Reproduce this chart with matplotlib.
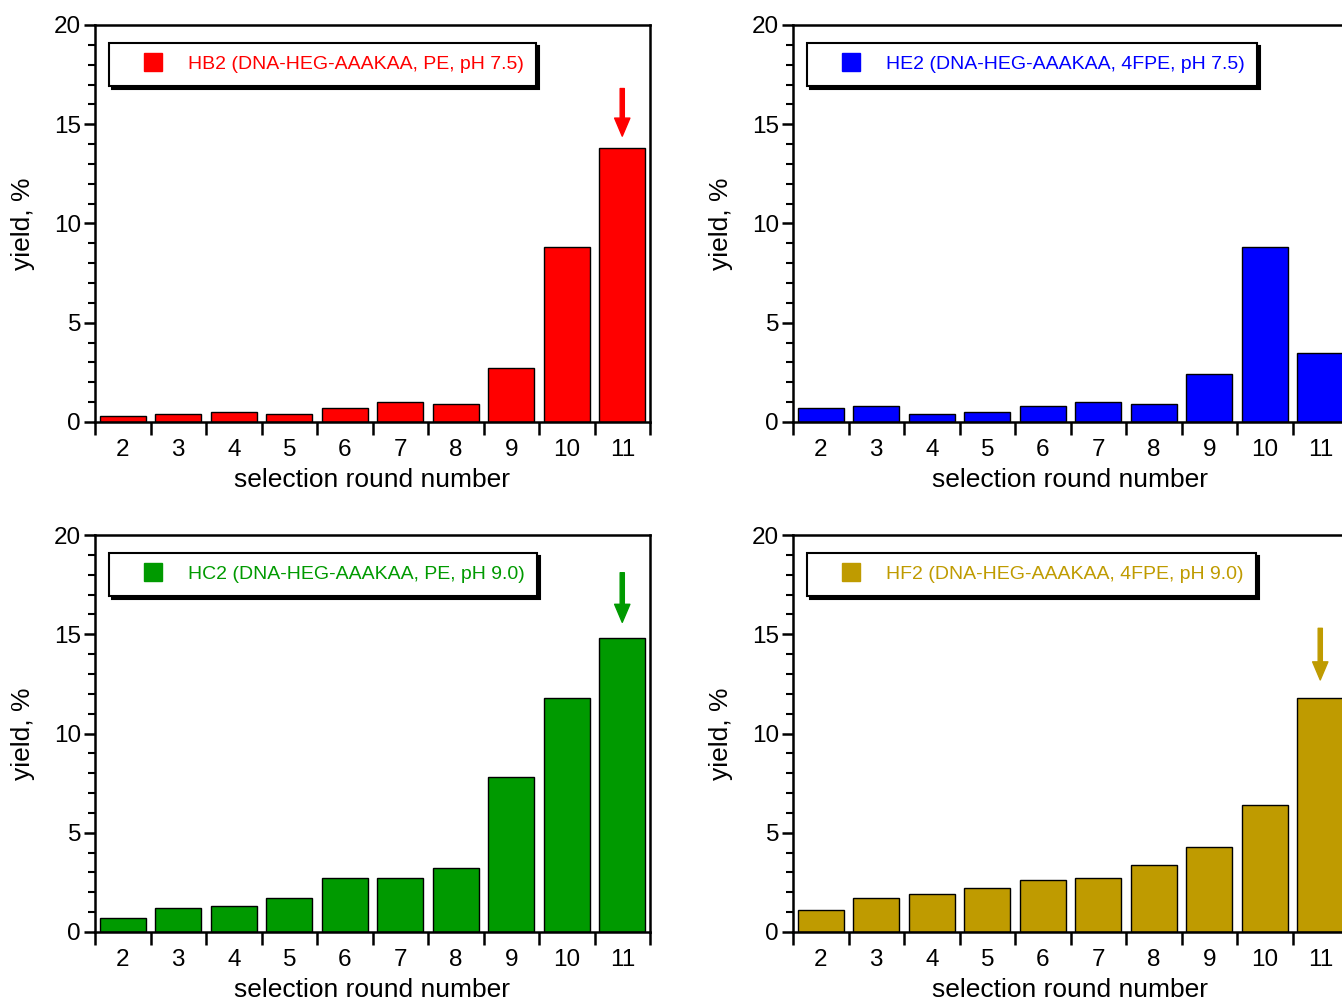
import numpy as np
import matplotlib
matplotlib.use("Agg")
from matplotlib import pyplot as plt
from matplotlib.lines import Line2D
from matplotlib.ticker import MultipleLocator

plt.rcParams['font.family'] = ['Liberation Sans', 'DejaVu Sans']

# data
rounds = [2, 3, 4, 5, 6, 7, 8, 9, 10, 11]
hb2 = [0.3, 0.4, 0.5, 0.4, 0.7, 1.0, 0.9, 2.7, 8.8, 13.8]
he2 = [0.7, 0.8, 0.4, 0.5, 0.8, 1.0, 0.9, 2.4, 8.8, 3.5]
hc2 = [0.7, 1.2, 1.3, 1.7, 2.7, 2.7, 3.2, 7.8, 11.8, 14.8]
hf2 = [1.1, 1.7, 1.9, 2.2, 2.6, 2.7, 3.4, 4.3, 6.4, 11.8]

labels = ["HB2 (DNA-HEG-AAAKAA, PE, pH 7.5)",
          "HE2 (DNA-HEG-AAAKAA, 4FPE, pH 7.5)",
          "HC2 (DNA-HEG-AAAKAA, PE, pH 9.0)",
          "HF2 (DNA-HEG-AAAKAA, 4FPE, pH 9.0)"]
colors = ['#ff0000', '#0000ff', '#009a00', '#bf9b00']

# arrows marking the chosen round: (x, tail, tip) or None
arrows = [(11, 16.8, 14.4), None, (11, 18.1, 15.6), (11, 15.3, 12.7)]

W, H = 1342, 1000
fig = plt.figure(figsize=(W/100, H/100), dpi=100)

# axes boxes in pixels: left, top, width, height
boxes = [(95, 25, 555, 397), (793, 25, 555, 397),
         (95, 535, 555, 397), (793, 535, 555, 397)]

series = [hb2, he2, hc2, hf2]

for box, vals, lab, col, arr in zip(boxes, series, labels, colors, arrows):
    l, t, w, h = box
    ax = fig.add_axes([l/W, 1 - (t + h)/H, w/W, h/H])
    ax.bar(rounds, vals, width=0.82, color=col, edgecolor='black', linewidth=1.0, zorder=2)

    ax.set_xlim(1.5, 11.5)
    ax.set_ylim(0, 20)
    ax.set_xticks(rounds)
    ax.set_xticks(np.arange(1.5, 12, 1.0), minor=True)
    ax.yaxis.set_major_locator(MultipleLocator(5))
    ax.yaxis.set_minor_locator(MultipleLocator(1))
    ax.tick_params(axis='x', which='major', length=0, pad=12, labelsize=17.5)
    ax.tick_params(axis='x', which='minor', length=9, width=1.8, direction='out')
    ax.tick_params(axis='y', which='major', length=8, width=1.8, direction='out', pad=2, labelsize=17.5)
    ax.tick_params(axis='y', which='minor', length=5, width=1.5, direction='out')
    for s in ax.spines.values():
        s.set_linewidth(1.8)

    ax.set_xlabel("selection round number", fontsize=19, labelpad=5)
    ax.set_ylabel("yield, %", fontsize=19, labelpad=14)

    handle = Line2D([], [], marker='s', markersize=13, color=col, linestyle='none')
    leg = ax.legend([handle], [lab], loc='upper left',
                    bbox_to_anchor=(14/w, 1 - 18/h), borderaxespad=0,
                    fontsize=14, frameon=True, fancybox=False, framealpha=1,
                    edgecolor='black', borderpad=0.65, handlelength=3.2,
                    handletextpad=0.2, shadow={'color': 'black', 'alpha': 1})
    leg.get_frame().set_linewidth(1.5)
    for txt in leg.get_texts():
        txt.set_color(col)

    if arr is not None:
        ax.annotate('', xy=(arr[0], arr[2]), xytext=(arr[0], arr[1]),
                    arrowprops=dict(arrowstyle='simple,head_length=1.3,head_width=1.1,tail_width=0.3',
                                    color=col, mutation_scale=10, shrinkA=0, shrinkB=0),
                    zorder=3)

fig.savefig("out.png", dpi=100)
